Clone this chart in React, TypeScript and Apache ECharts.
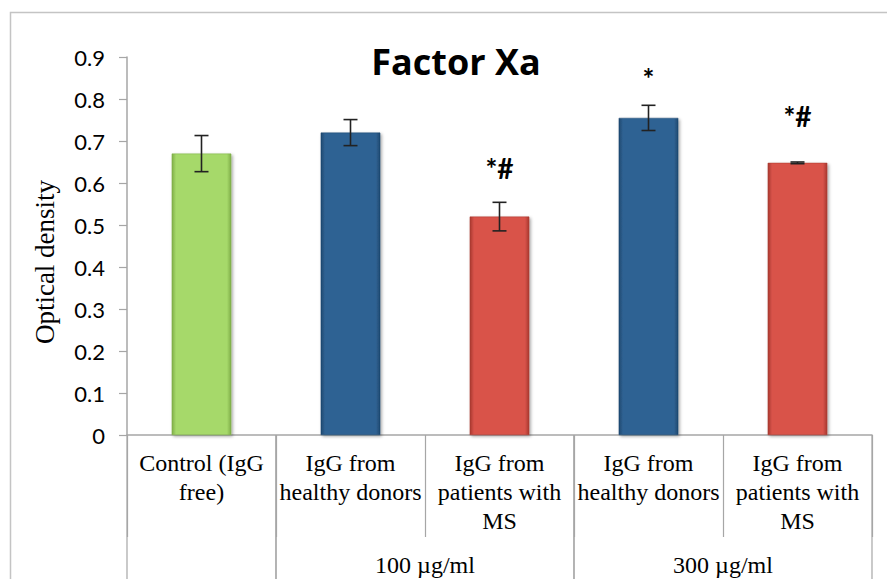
import React, { useEffect, useRef } from "react";
import * as echarts from "echarts";

const categories = [
  "Control (IgG\nfree)",
  "IgG from\nhealthy donors",
  "IgG from\npatients with\nMS",
  "IgG from\nhealthy donors",
  "IgG from\npatients with\nMS",
];
const values = [0.67, 0.72, 0.52, 0.755, 0.648];
const errors = [0.043, 0.031, 0.034, 0.03, 0.002];
const annotations = ["", "", "*#", "*", "*#"];
const annotationY = [0, 0, 0.635, 0.85, 0.76];
const groupLabels = ["", "100 µg/ml", "300 µg/ml"];
const groupStart = [0, 1, 3];
const groupEnd = [0, 2, 4];
const barKinds = ["green", "blue", "red", "blue", "red"];

const SERIF = "'Liberation Serif', 'Times New Roman', serif";

const palette: Record<string, { mid: string; edge: string }> = {
  green: { mid: "#a6d96a", edge: "#7fae48" },
  blue: { mid: "#2f6293", edge: "#1f4870" },
  red: { mid: "#d9534a", edge: "#a8392f" },
};

function barColor(kind: string) {
  const p = palette[kind];
  return new echarts.graphic.LinearGradient(0, 0, 1, 0, [
    { offset: 0, color: p.edge },
    { offset: 0.07, color: p.mid },
    { offset: 0.93, color: p.mid },
    { offset: 1, color: p.edge },
  ]);
}

export default function App() {
  const ref = useRef<HTMLDivElement>(null);
  useEffect(() => {
    if (!ref.current) return;
    const chart = echarts.init(ref.current, null, { renderer: "svg" });
    const axisGray = "#a6a6a6";
    chart.setOption({
      animation: false,
      backgroundColor: "#ffffff",
      title: {
        text: "Factor Xa",
        left: 451,
        textAlign: "center",
        top: 38,
        textStyle: { fontFamily: "Open Sans", fontWeight: "bold", fontSize: 36, color: "#000" },
      },
      graphic: [
        {
          type: "rect",
          shape: { x: 10.5, y: 12.5, width: 900, height: 600 },
          style: { fill: "none", stroke: "#c4c4c4", lineWidth: 1.5 },
          silent: true,
        },
      ],
      grid: { left: 127, right: 15, top: 57, bottom: 144, containLabel: false },
      xAxis: {
        type: "category",
        data: categories,
        axisLine: { show: true, lineStyle: { color: axisGray, width: 1.5 } },
        axisTick: { show: true, length: 102, lineStyle: { color: axisGray, width: 1.2 } },
        axisLabel: {
          interval: 0,
          margin: 13,
          fontFamily: SERIF,
          fontSize: 24,
          lineHeight: 29,
          color: "#000",
          hideOverlap: false,
        },
      },
      yAxis: {
        type: "value",
        min: 0,
        max: 0.9,
        interval: 0.1,
        name: "Optical density",
        nameLocation: "middle",
        nameGap: 69,
        nameTextStyle: {
          fontFamily: SERIF,
          fontSize: 27,
          color: "#000",
          padding: [0, 32, 0, 0],
        },
        axisLine: { show: true, lineStyle: { color: axisGray, width: 1.5 } },
        axisTick: { show: true, length: 8, lineStyle: { color: axisGray, width: 1.2 } },
        splitLine: { show: false },
        axisLabel: {
          margin: 22,
          fontFamily: "Lato",
          fontSize: 22,
          color: "#000",
          formatter: (v: number) => (v === 0 ? "0" : String(Math.round(v * 10) / 10)),
        },
      },
      series: [
        {
          type: "bar",
          barWidth: "40%",
          data: values.map((v, i) => ({
            value: v,
            itemStyle: {
              color: barColor(barKinds[i]),
              borderColor: palette[barKinds[i]].edge,
              borderWidth: 0.5,
              shadowColor: "rgba(0,0,0,0.35)",
              shadowBlur: 3,
              shadowOffsetX: 1.5,
              shadowOffsetY: 1.5,
            },
          })),
        },
        {
          type: "custom",
          silent: true,
          clip: false,
          z: 5,
          data: values.map((v, i) => [i, v, errors[i]]),
          encode: { x: 0, y: 1 },
          renderItem: (params: any, api: any) => {
            const i = api.value(0);
            const v = api.value(1);
            const e = api.value(2);
            const hi = api.coord([i, v + e]);
            const lo = api.coord([i, v - e]);
            const cap = 7;
            const style = { stroke: "#222", lineWidth: 1.6 };
            return {
              type: "group",
              children: [
                { type: "line", shape: { x1: hi[0], y1: hi[1], x2: lo[0], y2: lo[1] }, style },
                { type: "line", shape: { x1: hi[0] - cap, y1: hi[1], x2: hi[0] + cap, y2: hi[1] }, style },
                { type: "line", shape: { x1: lo[0] - cap, y1: lo[1], x2: lo[0] + cap, y2: lo[1] }, style },
              ],
            };
          },
        },
        {
          type: "custom",
          silent: true,
          clip: false,
          z: 6,
          data: annotations.map((a, i) => [i, annotationY[i]]),
          encode: { x: 0, y: 1 },
          renderItem: (params: any, api: any) => {
            const txt = annotations[params.dataIndex];
            if (!txt) return null;
            const p = api.coord([api.value(0), api.value(1)]);
            return {
              type: "text",
              x: p[0],
              y: p[1],
              style: {
                text: txt,
                fontFamily: "Lato",
                fontWeight: "bold",
                fontSize: 28,
                fill: "#000",
                align: "center",
                verticalAlign: "middle",
              },
            };
          },
        },
        {
          type: "custom",
          silent: true,
          clip: false,
          z: 4,
          data: groupLabels.map((g, i) => [groupStart[i], 0, groupEnd[i]]),
          encode: { x: 0, y: 1 },
          renderItem: (params: any, api: any) => {
            const s = api.value(0);
            const e = api.value(2);
            const half = api.size([1, 0])[0] / 2;
            const p0 = api.coord([s, 0]);
            const p1 = api.coord([e, 0]);
            const left = p0[0] - half;
            const right = p1[0] + half;
            const y0 = p0[1];
            const style = { stroke: "#a6a6a6", lineWidth: 1.2 };
            const label = groupLabels[params.dataIndex];
            return {
              type: "group",
              children: [
                { type: "line", shape: { x1: left, y1: y0, x2: left, y2: y0 + 160 }, style },
                { type: "line", shape: { x1: right, y1: y0, x2: right, y2: y0 + 160 }, style },
                {
                  type: "text",
                  x: (left + right) / 2,
                  y: y0 + 130,
                  style: {
                    text: label,
                    fontFamily: SERIF,
                    fontSize: 24,
                    fill: "#000",
                    align: "center",
                    verticalAlign: "middle",
                  },
                },
              ],
            };
          },
        },
      ],
    });
    return () => chart.dispose();
  }, []);
  return (
    <div
      ref={ref}
      style={{ position: "fixed", left: 0, top: 0, width: 887, height: 579 }}
    />
  );
}
